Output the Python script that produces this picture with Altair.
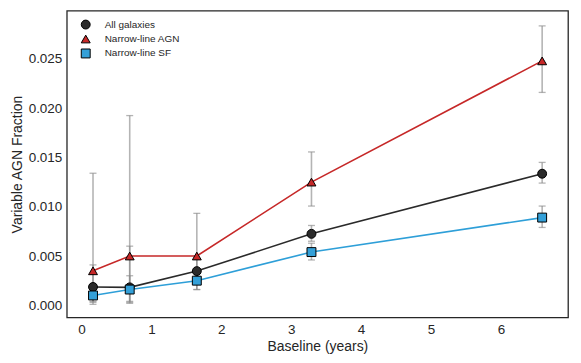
import altair as alt
import pandas as pd

series_names = ["All galaxies", "Narrow-line AGN", "Narrow-line SF"]
baseline = [0.165, 0.69, 1.65, 3.29, 6.59]

all_val = [0.00186, 0.00182, 0.00347, 0.00725, 0.01335]
all_lo = [0.00040, 0.00040, 0.00220, 0.00650, 0.01240]
all_hi = [0.00410, 0.00600, 0.00470, 0.00810, 0.01450]

agn_val = [0.00350, 0.00500, 0.00500, 0.01250, 0.02480]
agn_lo = [0.00010, 0.00030, 0.00160, 0.01007, 0.02160]
agn_hi = [0.01340, 0.01925, 0.00933, 0.01556, 0.02835]

sf_val = [0.00100, 0.00160, 0.00250, 0.00540, 0.00890]
sf_lo = [0.00030, 0.00020, 0.00160, 0.00460, 0.00790]
sf_hi = [0.00170, 0.00300, 0.00340, 0.00630, 0.01007]

rows = []
for name, v, lo, hi in [
    (series_names[0], all_val, all_lo, all_hi),
    (series_names[1], agn_val, agn_lo, agn_hi),
    (series_names[2], sf_val, sf_lo, sf_hi),
]:
    for i, x in enumerate(baseline):
        rows.append({"series": name, "line_group": name, "baseline": x,
                     "frac": v[i], "lo": lo[i], "hi": hi[i]})
df = pd.DataFrame(rows)
legend_df = pd.DataFrame({"series": series_names, "entry": series_names})

line_colors = ["#2a2a2a", "#c62828", "#2e9fd8"]
fill_colors = ["#2b2b2b", "#c62828", "#34a0d8"]
shapes = ["circle", "triangle-up", "square"]

xscale = alt.Scale(domain=[-0.21, 6.96], nice=False, zero=False)
yscale = alt.Scale(domain=[-0.00124, 0.0299], nice=False, zero=False)
fill_scale = alt.Scale(domain=series_names, range=fill_colors)
shape_scale = alt.Scale(domain=series_names, range=shapes)

xaxis = alt.Axis(title="Baseline (years)", values=[0, 1, 2, 3, 4, 5, 6], format="d", ticks=False, grid=False,
                 domain=False, labelFontSize=13.5, titleFontSize=14, labelPadding=5, titlePadding=4,
                 labelColor="#262626", titleColor="#262626", titleFontWeight="normal",
                 labelFont="Liberation Sans", titleFont="Liberation Sans")
yaxis = alt.Axis(title="Variable AGN Fraction", values=[0, 0.005, 0.01, 0.015, 0.02, 0.025], format=".3f",
                 ticks=False, grid=False, domain=False, labelFontSize=13.5, titleFontSize=14,
                 labelPadding=5, titlePadding=4, labelColor="#262626", titleColor="#262626",
                 titleFontWeight="normal", labelFont="Liberation Sans", titleFont="Liberation Sans")

base = alt.Chart(df)

err = base.mark_rule(color="#8c8c8c", opacity=0.65, strokeWidth=1.6).encode(
    x=alt.X("baseline:Q", scale=xscale, axis=xaxis),
    y=alt.Y("lo:Q", scale=yscale, axis=yaxis),
    y2="hi:Q",
)
cap_lo = base.mark_tick(color="#8c8c8c", opacity=0.65, thickness=1.3, size=7, orient="horizontal").encode(
    x=alt.X("baseline:Q", scale=xscale), y=alt.Y("lo:Q", scale=yscale))
cap_hi = base.mark_tick(color="#8c8c8c", opacity=0.65, thickness=1.3, size=7, orient="horizontal").encode(
    x=alt.X("baseline:Q", scale=xscale), y=alt.Y("hi:Q", scale=yscale))

lines = base.mark_line(strokeWidth=1.6).encode(
    x=alt.X("baseline:Q", scale=xscale),
    y=alt.Y("frac:Q", scale=yscale),
    color=alt.Color("line_group:N", scale=alt.Scale(domain=series_names, range=line_colors), legend=None),
)

points = base.mark_point(filled=True, size=80, stroke="black", strokeWidth=1, opacity=1).encode(
    x=alt.X("baseline:Q", scale=xscale),
    y=alt.Y("frac:Q", scale=yscale),
    fill=alt.Fill("series:N", scale=fill_scale, legend=None),
    shape=alt.Shape("series:N", scale=shape_scale, legend=None),
)

data_layer = alt.layer(err, cap_lo, cap_hi, lines, points)

# legend drawn from the series list, placed by a point scale
leg_y = alt.Y("entry:N", scale=alt.Scale(domain=series_names, range=[14, 43], padding=0), axis=None)
leg_sym = alt.Chart(legend_df).mark_point(filled=True, size=80, stroke="black", strokeWidth=1, opacity=1).encode(
    x=alt.value(19),
    y=leg_y,
    fill=alt.Fill("series:N", scale=fill_scale, legend=None),
    shape=alt.Shape("series:N", scale=shape_scale, legend=None),
)
leg_txt = alt.Chart(legend_df).mark_text(align="left", baseline="middle", fontSize=10,
                                          font="Liberation Sans", color="#262626").encode(
    x=alt.value(38),
    y=leg_y,
    text="entry:N",
)
legend_layer = alt.layer(leg_sym, leg_txt)

chart = alt.layer(data_layer, legend_layer).resolve_scale(y="independent").properties(
    width=503, height=308,
    padding={"left": 2, "top": 2, "right": 5, "bottom": 5},
    background="white",
).configure_view(stroke="#262626", strokeWidth=1.3)

chart.save("out.html", embed_options={"renderer": "svg", "actions": False})
